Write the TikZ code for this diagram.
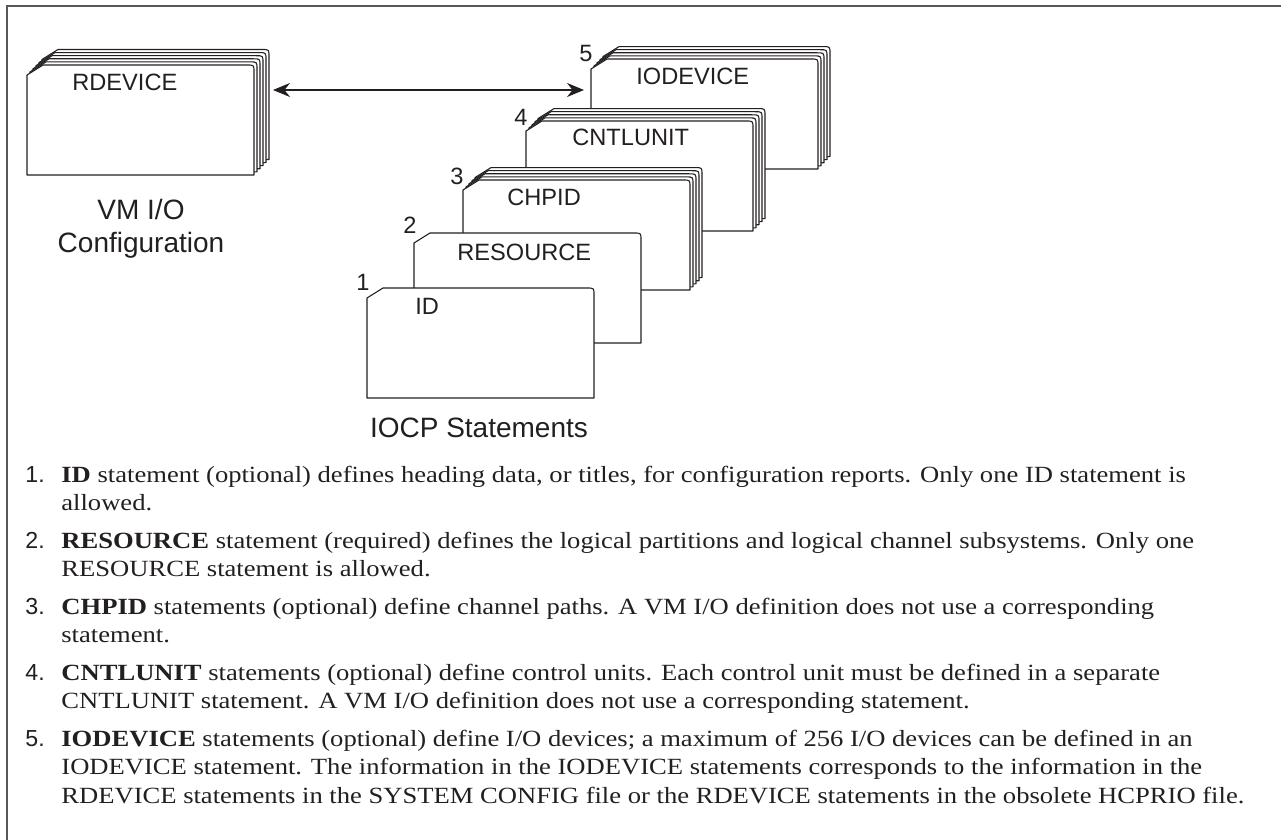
\documentclass[tikz,border=0pt]{standalone}
\usepackage{fontspec}
\setmainfont{Liberation Serif}
\setsansfont{Liberation Sans}
\newfontfamily\notefont{Liberation Serif}[FakeStretch=1.146]
\usetikzlibrary{arrows.meta}
\definecolor{ink}{HTML}{231F20}

% one card: left x, top y (picture units, y down)
\newcommand{\card}[2]{%
  \filldraw[card] (#1,#2+110) -- (#1,#2+10) -- (#1+16,#2) -- (#1+220,#2)
    .. controls (#1+227,#2) .. (#1+227,#2+7) -- (#1+227,#2+110) -- cycle;}
% a stack: #3 cards behind, then the front one
\newcommand{\cardstack}[3]{%
  \foreach \k in {#3,...,1} {\card{#1+3*\k}{#2-3.1*\k}}
  \card{#1}{#2}}

\begin{document}
\begin{tikzpicture}[x=0.5pt, y=-0.5pt, >={Stealth[length=8.5pt,width=7pt]},
    card/.style={fill=white, draw=ink, line width=0.55pt, line join=round},
    label/.style={font=\sffamily\fontsize{11.8}{14}\selectfont, text=ink, inner sep=0},
    caption/.style={font=\sffamily\fontsize{14}{16.5}\selectfont, text=ink, inner sep=0},
    num/.style={font=\sffamily\fontsize{11.6}{14}\selectfont, text=ink, inner sep=0, anchor=base west},
    note/.style={font=\notefont\fontsize{11.6}{14.25}\selectfont, text=ink, inner sep=0, anchor=base west}]
  \useasboundingbox (0,0) rectangle (1281,840);
  \draw[ink!75, line width=1pt] (1281,6) -- (7,6) -- (7,840);

  % VM side
  \cardstack{27}{65}{5}
  \node[label, anchor=west] (rdevice) at (72,82) {RDEVICE};
  \node[caption, align=center] (vmcap) at (141,229) {VM I/O\\Configuration};

  % IOCP statements, back to front
  \cardstack{591}{59}{4}
  \node[label, anchor=west] (iodevice) at (636,76) {IODEVICE};
  \node[label] (n5) at (586,53) {5};
  \cardstack{526}{121}{4}
  \node[label, anchor=west] (cntlunit) at (572,137) {CNTLUNIT};
  \node[label] (n4) at (521,117) {4};
  \cardstack{463}{180}{4}
  \node[label, anchor=west] (chpid) at (507,197) {CHPID};
  \node[label] (n3) at (457,176) {3};
  \card{414}{233}
  \node[label, anchor=west] (resource) at (457,252) {RESOURCE};
  \node[label] (n2) at (410,225) {2};
  \card{367}{288}
  \node[label, anchor=west] (id) at (415,306) {ID};
  \node[label] (n1) at (363,282) {1};
  \node[caption] (iocpcap) at (479,428) {IOCP Statements};

  \coordinate (vmend) at (273,90);
  \coordinate (iocpend) at (584,90);
  \draw[<->, ink, line width=0.6pt] (vmend) -- (iocpend);

  % notes
  \node[num] (k1) at (25,482) {1.};
  \node[note] (item1) at (61,482) {\parbox[t]{620pt}{\raggedright
    \textbf{ID} statement (optional) defines heading data, or titles, for configuration reports. Only one ID statement is\\
    allowed.}};
  \node[num] (k2) at (25,548) {2.};
  \node[note] (item2) at (61,548) {\parbox[t]{620pt}{\raggedright
    \textbf{RESOURCE} statement (required) defines the logical partitions and logical channel subsystems. Only one\\
    RESOURCE statement is allowed.}};
  \node[num] (k3) at (25,614) {3.};
  \node[note] (item3) at (61,614) {\parbox[t]{620pt}{\raggedright
    \textbf{CHPID} statements (optional) define channel paths. A VM I/O definition does not use a corresponding\\
    statement.}};
  \node[num] (k4) at (25,680) {4.};
  \node[note] (item4) at (61,680) {\parbox[t]{620pt}{\raggedright
    \textbf{CNTLUNIT} statements (optional) define control units. Each control unit must be defined in a separate\\
    CNTLUNIT statement. A VM I/O definition does not use a corresponding statement.}};
  \node[num] (k5) at (25,746) {5.};
  \node[note] (item5) at (61,746) {\parbox[t]{620pt}{\raggedright
    \textbf{IODEVICE} statements (optional) define I/O devices; a maximum of 256 I/O devices can be defined in an\\
    IODEVICE statement. The information in the IODEVICE statements corresponds to the information in the\\
    RDEVICE statements in the SYSTEM CONFIG file or the RDEVICE statements in the obsolete HCPRIO file.}};
\end{tikzpicture}
\end{document}
